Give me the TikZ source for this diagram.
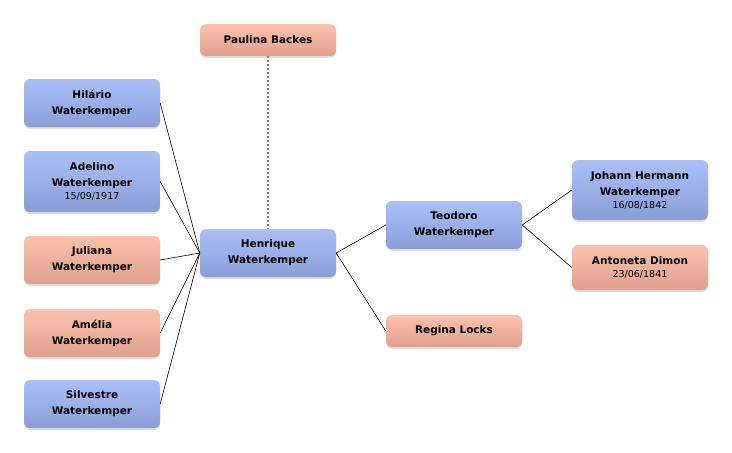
\documentclass[tikz,border=0pt]{standalone}
\usepackage{fontspec}
\setmainfont{DejaVu Sans}
\usetikzlibrary{shadows}
\definecolor{bluetop}{HTML}{ABC0F7}
\definecolor{bluebot}{HTML}{8A9DD8}
\definecolor{redtop}{HTML}{FBC2AC}
\definecolor{redbot}{HTML}{E0A08F}
\tikzset{
  person/.style={rounded corners=6pt, minimum width=136pt, align=center,
    font=\fontsize{10.5}{16}\selectfont\bfseries, inner sep=2pt,
    drop shadow={shadow xshift=0pt, shadow yshift=-2pt, opacity=0.25}},
  male/.style={person, top color=bluetop, bottom color=bluebot},
  female/.style={person, top color=redtop, bottom color=redbot},
  link/.style={black, line width=0.6pt}
}
\newcommand{\born}[1]{\\[-3pt]{\fontsize{9.5}{11}\selectfont\mdseries #1}}
\begin{document}
\begin{tikzpicture}[x=1pt, y=-1pt]
        \useasboundingbox (0,0) rectangle (732,453);
        % left column: children
        \node[male, minimum height=48pt]   (hilario)   at (92,103)   {Hilário\\Waterkemper};
        \node[male, minimum height=61pt]   (adelino)   at (92,181.5) {Adelino\\Waterkemper\born{15/09/1917}};
        \node[female, minimum height=48pt] (juliana)   at (92,260)   {Juliana\\Waterkemper};
        \node[female, minimum height=48pt] (amelia)    at (92,333)   {Amélia\\Waterkemper};
        \node[male, minimum height=48pt]   (silvestre) at (92,404)   {Silvestre\\Waterkemper};
        % middle: Henrique and wife
        \node[female, minimum height=32pt] (paulina)   at (268,40)   {Paulina Backes};
        \node[male, minimum height=48pt]   (henrique)  at (268,253)  {Henrique\\Waterkemper};
        % parents
        \node[male, minimum height=48pt]   (teodoro)   at (454,225)  {Teodoro\\Waterkemper};
        \node[female, minimum height=32pt] (regina)    at (454,331)  {Regina Locks};
        % grandparents
        \node[male, minimum height=60pt]   (johann)    at (640,190)  {Johann Hermann\\Waterkemper\born{16/08/1842}};
        \node[female, minimum height=45pt] (antoneta)  at (640,267.5) {Antoneta Dimon\born{23/06/1841}};
        % marriage
        \draw[gray, line width=1.2pt, dash pattern=on 2pt off 2pt] (paulina) -- (henrique);
        % children links
        \foreach \kid in {hilario, adelino, juliana, amelia, silvestre}
          \draw[link] (\kid.east) -- (henrique.west);
        % ancestors links
        \draw[link] (henrique.east) -- (teodoro.west);
        \draw[link] (henrique.east) -- (regina.west);
        \draw[link] (teodoro.east) -- (johann.west);
        \draw[link] (teodoro.east) -- (antoneta.west);
\end{tikzpicture}
\end{document}
